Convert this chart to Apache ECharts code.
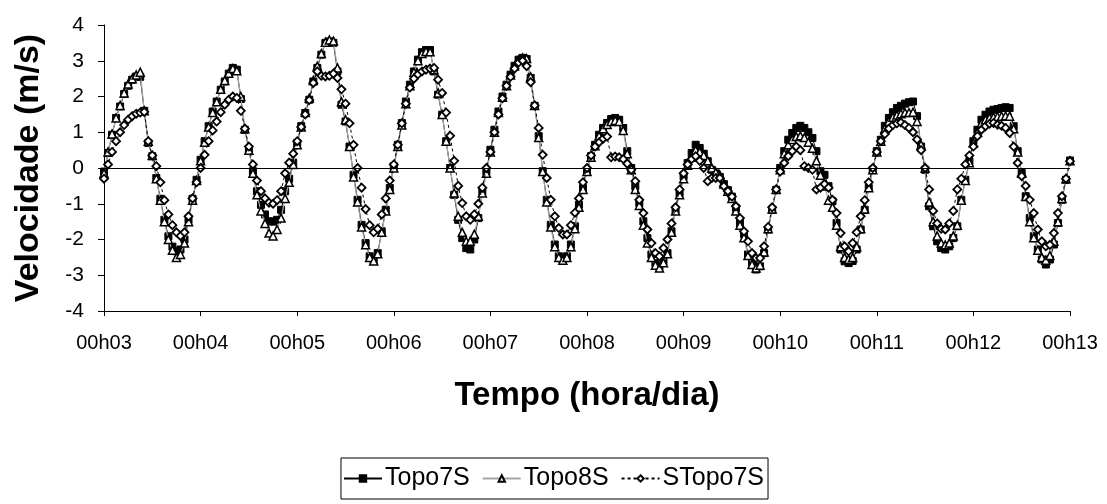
<!DOCTYPE html>
<html><head><meta charset="utf-8">
<script src="https://cdn.jsdelivr.net/npm/echarts@6/dist/echarts.min.js"></script>
<style>html,body{margin:0;padding:0;background:#fff}#c{width:1107px;height:504px}</style>
</head><body><div id="c"></div>
<script>
// x axis: hours since 00h03 (hourly samples), one tick label per day
const tickLabels = ['00h03','00h04','00h05','00h06','00h07','00h08','00h09','00h10','00h11','00h12','00h13'];
const hoursPerTick = 24;

const topo7S = [
 -0.1, 0.42, 0.93, 1.4, 1.72, 2.07, 2.3, 2.47, 2.56, 2.55, 1.6, 0.7, 0.33, -0.28, -0.86, -1.45, -1.91, -2.2, -2.33, -2.28, -2.0, -1.45, -0.86, -0.33,
 0.23, 0.75, 1.17, 1.58, 1.86, 2.19, 2.42, 2.64, 2.8, 2.75, 1.93, 1.07, 0.51, -0.09, -0.65, -1.03, -1.3, -1.49, -1.5, -1.45, -1.17, -0.65, -0.3, 0.15,
 0.7, 1.17, 1.54, 1.91, 2.42, 2.8, 3.17, 3.5, 3.54, 3.5, 2.7, 1.77, 1.3, 0.6, -0.19, -0.89, -1.59, -2.1, -2.47, -2.6, -2.38, -1.77, -1.17, -0.56,
 0.05, 0.65, 1.26, 1.86, 2.33, 2.7, 3.03, 3.24, 3.3, 3.3, 2.7, 2.05, 1.49, 0.75, 0.0, -0.75, -1.45, -1.96, -2.24, -2.28, -2.0, -1.4, -0.65, -0.09,
 0.51, 1.07, 1.58, 2.0, 2.33, 2.61, 2.86, 3.03, 3.08, 3.05, 2.52, 1.74, 0.89, -0.09, -0.89, -1.59, -2.14, -2.47, -2.56, -2.47, -2.14, -1.63, -1.03, -0.56,
 -0.09, 0.33, 0.65, 0.93, 1.12, 1.26, 1.37, 1.4, 1.35, 1.12, 0.47, 0.0, -0.51, -0.98, -1.49, -1.96, -2.42, -2.66, -2.75, -2.61, -2.38, -1.77, -1.17, -0.7,
 -0.23, 0.14, 0.42, 0.65, 0.56, 0.4, 0.19, -0.05, -0.15, -0.25, -0.45, -0.62, -0.8, -1.12, -1.54, -1.85, -2.42, -2.66, -2.84, -2.75, -2.38, -1.72, -1.17, -0.61,
 0.0, 0.47, 0.79, 0.98, 1.12, 1.18, 1.12, 1.0, 0.84, 0.47, -0.09, -0.19, -0.51, -0.93, -1.54, -2.28, -2.61, -2.66, -2.6, -2.28, -1.72, -1.17, -0.56, -0.05,
 0.47, 0.79, 1.18, 1.4, 1.56, 1.68, 1.74, 1.8, 1.84, 1.86, 1.45, 0.6, -0.05, -1.07, -1.63, -2.05, -2.24, -2.28, -2.19, -1.96, -1.63, -0.89, -0.33, 0.19,
 0.75, 1.07, 1.35, 1.49, 1.58, 1.63, 1.65, 1.68, 1.7, 1.68, 1.17, 0.47, -0.14, -0.79, -1.4, -1.91, -2.28, -2.56, -2.7, -2.56, -2.14, -1.54, -0.89, -0.33,
 0.21
];

const topo8S = [
 -0.15, 0.45, 0.95, 1.4, 1.75, 2.1, 2.35, 2.5, 2.6, 2.68, 1.6, 0.75, 0.35, -0.3, -0.9, -1.5, -2.0, -2.3, -2.5, -2.42, -2.1, -1.5, -0.9, -0.35,
 0.2, 0.72, 1.15, 1.55, 1.85, 2.2, 2.45, 2.65, 2.78, 2.72, 2.0, 1.1, 0.5, -0.15, -0.75, -1.2, -1.55, -1.82, -1.9, -1.72, -1.4, -0.85, -0.4, 0.1,
 0.65, 1.15, 1.55, 1.95, 2.45, 2.85, 3.2, 3.52, 3.58, 3.55, 2.8, 1.85, 1.35, 0.6, -0.25, -0.95, -1.65, -2.15, -2.5, -2.6, -2.4, -1.8, -1.2, -0.6,
 0.0, 0.6, 1.2, 1.8, 2.3, 2.68, 3.0, 3.2, 3.26, 3.25, 2.75, 2.1, 1.5, 0.75, 0.0, -0.7, -1.35, -1.8, -2.05, -2.05, -1.85, -1.35, -0.7, -0.15,
 0.45, 1.0, 1.55, 1.98, 2.3, 2.6, 2.85, 3.02, 3.08, 3.06, 2.55, 1.75, 0.85, -0.1, -0.95, -1.65, -2.2, -2.5, -2.58, -2.5, -2.2, -1.7, -1.1, -0.6,
 -0.1, 0.3, 0.62, 0.9, 1.1, 1.22, 1.3, 1.33, 1.3, 1.05, 0.4, -0.05, -0.6, -1.05, -1.6, -2.1, -2.5, -2.72, -2.8, -2.65, -2.4, -1.8, -1.2, -0.75,
 -0.3, 0.08, 0.3, 0.5, 0.45, 0.35, 0.2, 0.0, -0.12, -0.2, -0.45, -0.65, -0.85, -1.2, -1.6, -1.95, -2.45, -2.7, -2.8, -2.72, -2.35, -1.7, -1.15, -0.6,
 -0.05, 0.4, 0.65, 0.8, 0.88, 0.9, 0.85, 0.72, 0.55, 0.2, -0.2, -0.5, -0.9, -1.1, -1.6, -2.2, -2.5, -2.55, -2.5, -2.2, -1.7, -1.15, -0.55, -0.05,
 0.45, 0.75, 1.1, 1.3, 1.42, 1.48, 1.52, 1.55, 1.55, 1.56, 1.3, 0.65, 0.0, -0.95, -1.5, -1.9, -2.1, -2.15, -2.1, -1.9, -1.6, -0.9, -0.35, 0.15,
 0.7, 1.0, 1.25, 1.35, 1.4, 1.42, 1.44, 1.45, 1.46, 1.45, 1.1, 0.45, -0.15, -0.8, -1.5, -1.95, -2.3, -2.5, -2.58, -2.45, -2.05, -1.5, -0.85, -0.3,
 0.2
];

const sTopo7S = [
 -0.3, 0.1, 0.45, 0.75, 1.0, 1.2, 1.35, 1.45, 1.52, 1.55, 1.57, 0.75, 0.35, 0.05, -0.4, -0.9, -1.3, -1.6, -1.8, -1.9, -1.8, -1.35, -0.85, -0.4,
 0.0, 0.37, 0.75, 1.05, 1.3, 1.56, 1.77, 1.91, 2.0, 1.96, 1.6, 1.1, 0.6, 0.1, -0.35, -0.65, -0.85, -0.97, -1.0, -0.9, -0.65, -0.15, 0.15, 0.4,
 0.75, 1.15, 1.5, 1.9, 2.38, 2.7, 2.58, 2.56, 2.58, 2.64, 2.52, 2.2, 1.8, 1.25, 0.65, 0.0, -0.55, -1.15, -1.6, -1.8, -1.7, -1.3, -0.85, -0.35,
 0.1, 0.65, 1.25, 1.8, 2.25, 2.5, 2.62, 2.7, 2.75, 2.78, 2.8, 2.47, 2.1, 1.55, 0.9, 0.2, -0.5, -0.98, -1.35, -1.45, -1.3, -1.0, -0.55, 0.0,
 0.45, 1.0, 1.5, 1.95, 2.3, 2.55, 2.78, 2.95, 3.0, 2.85, 2.4, 1.75, 1.12, 0.37, -0.28, -0.89, -1.35, -1.68, -1.86, -1.86, -1.6, -1.25, -0.85, -0.4,
 0.0, 0.35, 0.6, 0.72, 0.82, 0.88, 0.3, 0.32, 0.3, 0.25, 0.12, -0.05, -0.37, -0.89, -1.26, -1.72, -2.1, -2.38, -2.47, -2.24, -2.0, -1.55, -1.1, -0.6,
 -0.15, 0.1, 0.25, 0.33, 0.2, 0.0, -0.37, -0.28, -0.28, -0.28, -0.51, -0.65, -0.8, -1.07, -1.4, -1.77, -2.05, -2.38, -2.52, -2.52, -2.19, -1.65, -1.1, -0.6,
 -0.1, 0.14, 0.33, 0.47, 0.6, 0.5, 0.05, 0.0, -0.05, -0.6, -0.55, -0.45, -0.55, -0.89, -1.26, -1.82, -2.19, -2.33, -2.1, -1.8, -1.35, -0.9, -0.4, 0.0,
 0.45, 0.75, 0.95, 1.1, 1.2, 1.25, 1.27, 1.2, 1.12, 1.0, 0.8, 0.5, 0.0, -0.6, -1.2, -1.55, -1.7, -1.72, -1.55, -1.2, -0.6, -0.3, 0.1, 0.35,
 0.6, 0.89, 1.07, 1.17, 1.24, 1.26, 1.21, 1.18, 1.12, 0.98, 0.6, 0.14, -0.23, -0.5, -0.89, -1.26, -1.72, -2.05, -2.19, -2.15, -1.82, -1.26, -0.79, -0.3,
 0.19
];

const seriesNames = ['Topo7S', 'Topo8S', 'STopo7S'];
const yTicks = [-4, 4, 1];

const FONT = '"Liberation Sans", Arial, sans-serif';
const toPairs = arr => arr.map((v, i) => [i, v]);

const chart = echarts.init(document.getElementById('c'), null, {renderer: 'canvas'});
chart.setOption({
  animation: false,
  backgroundColor: '#fff',
  textStyle: {fontFamily: FONT, color: '#000'},
  grid: {left: 104, right: 37, top: 25, bottom: 193, containLabel: false},
  legend: {
    data: seriesNames,
    left: 'center',
    top: 458,
    orient: 'horizontal',
    itemWidth: 38,
    itemHeight: 8,
    itemGap: 12,
    padding: [8, 4, 8, 2],
    borderColor: '#000',
    borderWidth: 1,
    textStyle: {fontFamily: FONT, fontSize: 25, color: '#000', padding: [0, 0, 0, -2]}
  },
  xAxis: {
    type: 'value',
    min: 0,
    max: (tickLabels.length - 1) * hoursPerTick,
    interval: hoursPerTick,
    name: 'Tempo (hora/dia)',
    nameLocation: 'middle',
    nameGap: 68,
    nameTextStyle: {fontFamily: FONT, fontSize: 33, fontWeight: 'bold', color: '#000'},
    axisLine: {onZero: false, lineStyle: {color: '#000', width: 1}},
    axisTick: {show: true, length: 5, lineStyle: {color: '#000'}},
    axisLabel: {fontFamily: FONT, fontSize: 20, color: '#000', margin: 22,
      formatter: v => tickLabels[Math.round(v / hoursPerTick)] || ''},
    splitLine: {show: false}
  },
  yAxis: {
    type: 'value',
    min: yTicks[0],
    max: yTicks[1],
    interval: yTicks[2],
    name: 'Velocidade (m/s)',
    nameLocation: 'middle',
    nameGap: 58,
    nameRotate: 90,
    nameTextStyle: {fontFamily: FONT, fontSize: 34, fontWeight: 'bold', color: '#000'},
    axisLine: {show: true, lineStyle: {color: '#000', width: 1}},
    axisTick: {show: true, length: 6, lineStyle: {color: '#000'}},
    axisLabel: {fontFamily: FONT, fontSize: 21, color: '#000', margin: 20},
    splitLine: {show: false}
  },
  series: [
    {
      name: seriesNames[0], type: 'line', data: toPairs(topo7S),
      symbol: 'rect', symbolSize: 7, showAllSymbol: true,
      lineStyle: {color: '#000', width: 1},
      itemStyle: {color: '#000', borderColor: '#000', borderWidth: 1},
      z: 2,
      markLine: {
        silent: true, symbol: 'none', label: {show: false},
        lineStyle: {color: '#000', width: 1.2, type: 'solid'},
        data: [{yAxis: 0}]
      }
    },
    {
      name: seriesNames[1], type: 'line', data: toPairs(topo8S),
      symbol: 'triangle', symbolSize: 8, showAllSymbol: true,
      lineStyle: {color: '#a6a6a6', width: 1.2},
      itemStyle: {color: '#fff', borderColor: '#000', borderWidth: 1.5},
      z: 3
    },
    {
      name: seriesNames[2], type: 'line', data: toPairs(sTopo7S),
      symbol: 'diamond', symbolSize: 8, showAllSymbol: true,
      lineStyle: {color: '#000', width: 1, type: [3, 3]},
      itemStyle: {color: '#fff', borderColor: '#000', borderWidth: 1.8},
      z: 4
    }
  ]
});
</script>
</body></html>
